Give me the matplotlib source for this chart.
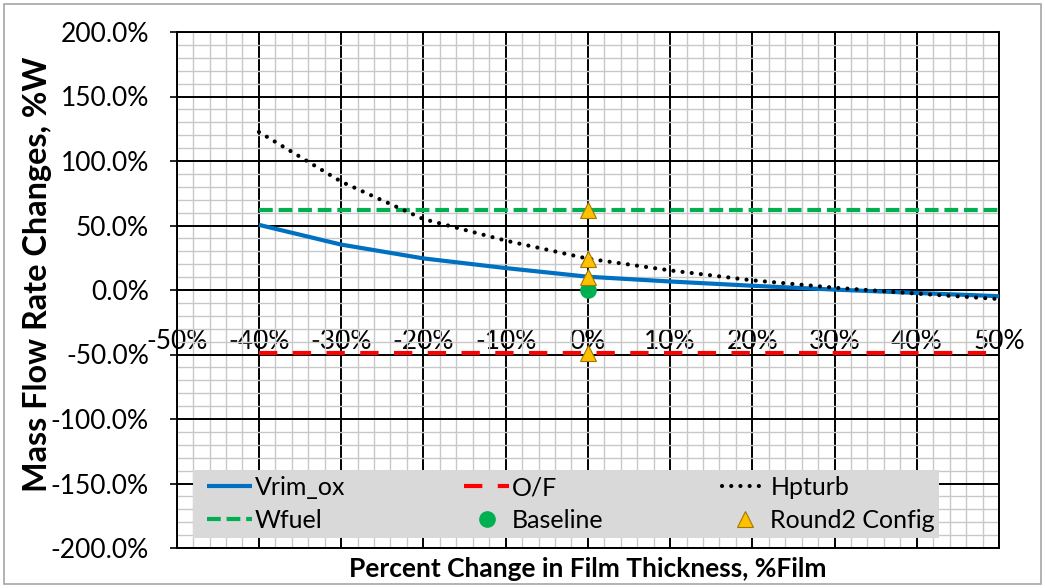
import matplotlib
matplotlib.use("Agg")
import matplotlib.pyplot as plt
from matplotlib.ticker import MultipleLocator, FuncFormatter
from matplotlib.patches import Rectangle

plt.rcParams['font.family'] = ['Lato', 'DejaVu Sans']

# Film thickness change (%) and the resulting flow-rate changes (%)
film_pct = [-40, -30, -20, -10, 0, 10, 20, 30, 40, 50]
vrim_ox = [50.5, 35.2, 24.5, 17.0, 10.3, 6.6, 3.3, 0.3, -2.3, -4.8]
hpturb = [122.5, 84.0, 55.0, 38.3, 24.3, 15.2, 7.5, 1.8, -2.8, -7.0]
wfuel = [61.8] * len(film_pct)
o_f = [-48.5] * len(film_pct)

baseline_x = [0]
baseline_y = [0.0]
round2_x = [0, 0, 0, 0]
round2_y = [61.8, 24.3, 10.3, -48.5]

x_ticks = [-50, -40, -30, -20, -10, 0, 10, 20, 30, 40, 50]
x_tick_labels = [f"{v}%" for v in x_ticks]
y_ticks = [-200, -150, -100, -50, 0, 50, 100, 150, 200]

fig = plt.figure(figsize=(10.45, 5.88), dpi=100)
fig.patches.append(Rectangle((0.004, 0.006), 0.992, 0.988, transform=fig.transFigure,
                             fill=False, edgecolor='#a6a6a6', linewidth=1.2))
ax = fig.add_axes([176.7 / 1045, 1 - 548 / 588, 822.3 / 1045, 516 / 588])

ax.set_xlim(-50, 50)
ax.set_ylim(-200, 200)

# grid: light minor, black major
ax.xaxis.set_minor_locator(MultipleLocator(2))
ax.yaxis.set_minor_locator(MultipleLocator(10))
ax.set_xticks(x_ticks)
ax.set_xticklabels(x_tick_labels)
ax.set_yticks(y_ticks)
ax.yaxis.set_major_formatter(FuncFormatter(lambda v, p: f"{v:.1f}%"))
ax.grid(which='minor', color='#c8c8c8', linewidth=1.0)
ax.grid(which='major', color='black', linewidth=1.4)
ax.set_axisbelow(True)

# horizontal axis sits at zero, labels pushed below it
ax.spines['bottom'].set_position(('data', 0))
ax.spines['bottom'].set_linewidth(1.4)
for s in ('left', 'top', 'right'):
    ax.spines[s].set_linewidth(1.4)
ax.axhline(-200, color='black', linewidth=1.4, clip_on=False, zorder=1)

ax.tick_params(axis='x', which='both', length=0, pad=28, labelsize=19)
ax.tick_params(axis='y', which='major', length=5, width=1.2, direction='out',
               pad=15, labelsize=19)
ax.tick_params(axis='y', which='minor', length=0)

ax.plot(film_pct, vrim_ox, color='#0070C0', linewidth=3.0, label='Vrim_ox',
        solid_capstyle='butt', zorder=3)
ax.plot(film_pct, wfuel, color='#00B050', linewidth=3.0, label='Wfuel',
        linestyle=(0, (3.3, 1.4)), dash_capstyle='butt', zorder=3)
ax.plot(film_pct, o_f, color='#FF0000', linewidth=3.0, label='O/F',
        linestyle=(0, (4.4, 3.7)), dash_capstyle='butt', zorder=3)
ax.plot(baseline_x, baseline_y, linestyle='none', marker='o', markersize=11,
        color='#00B050', label='Baseline', zorder=4)
ax.plot(film_pct, hpturb, color='black', linewidth=3.0, label='Hpturb',
        linestyle=(0, (0.01, 2.2)), dash_capstyle='round', zorder=3)
ax.plot(round2_x, round2_y, linestyle='none', marker='^', markersize=12,
        markerfacecolor='#FFC000', markeredgecolor='#A07800', markeredgewidth=0.8,
        label='Round2 Config', zorder=5)

ax.set_ylabel('Mass Flow Rate Changes, %W', fontsize=23.3, fontweight='bold')
ax.yaxis.set_label_coords(-0.152, 0.53)
ax.set_xlabel('Percent Change in Film Thickness, %Film', fontsize=19, fontweight='bold')
ax.xaxis.set_label_coords(0.5, -0.018)

# legend: grey panel with the entries spread across it
ax.add_patch(Rectangle((0.0202, 0.0188), 0.9068, 0.1324, transform=ax.transAxes,
                       facecolor='#d9d9d9', edgecolor='none', zorder=5.5))
leg = ax.legend(ncol=3, loc='center', bbox_to_anchor=(0.0368, 0.0188, 0.8854, 0.1324),
                mode='expand', fontsize=18, frameon=False,
                handlelength=1.8, handletextpad=0.12, borderaxespad=0,
                labelspacing=0.4, borderpad=0)
leg.set_zorder(6)

fig.savefig('out.png', dpi=100)
